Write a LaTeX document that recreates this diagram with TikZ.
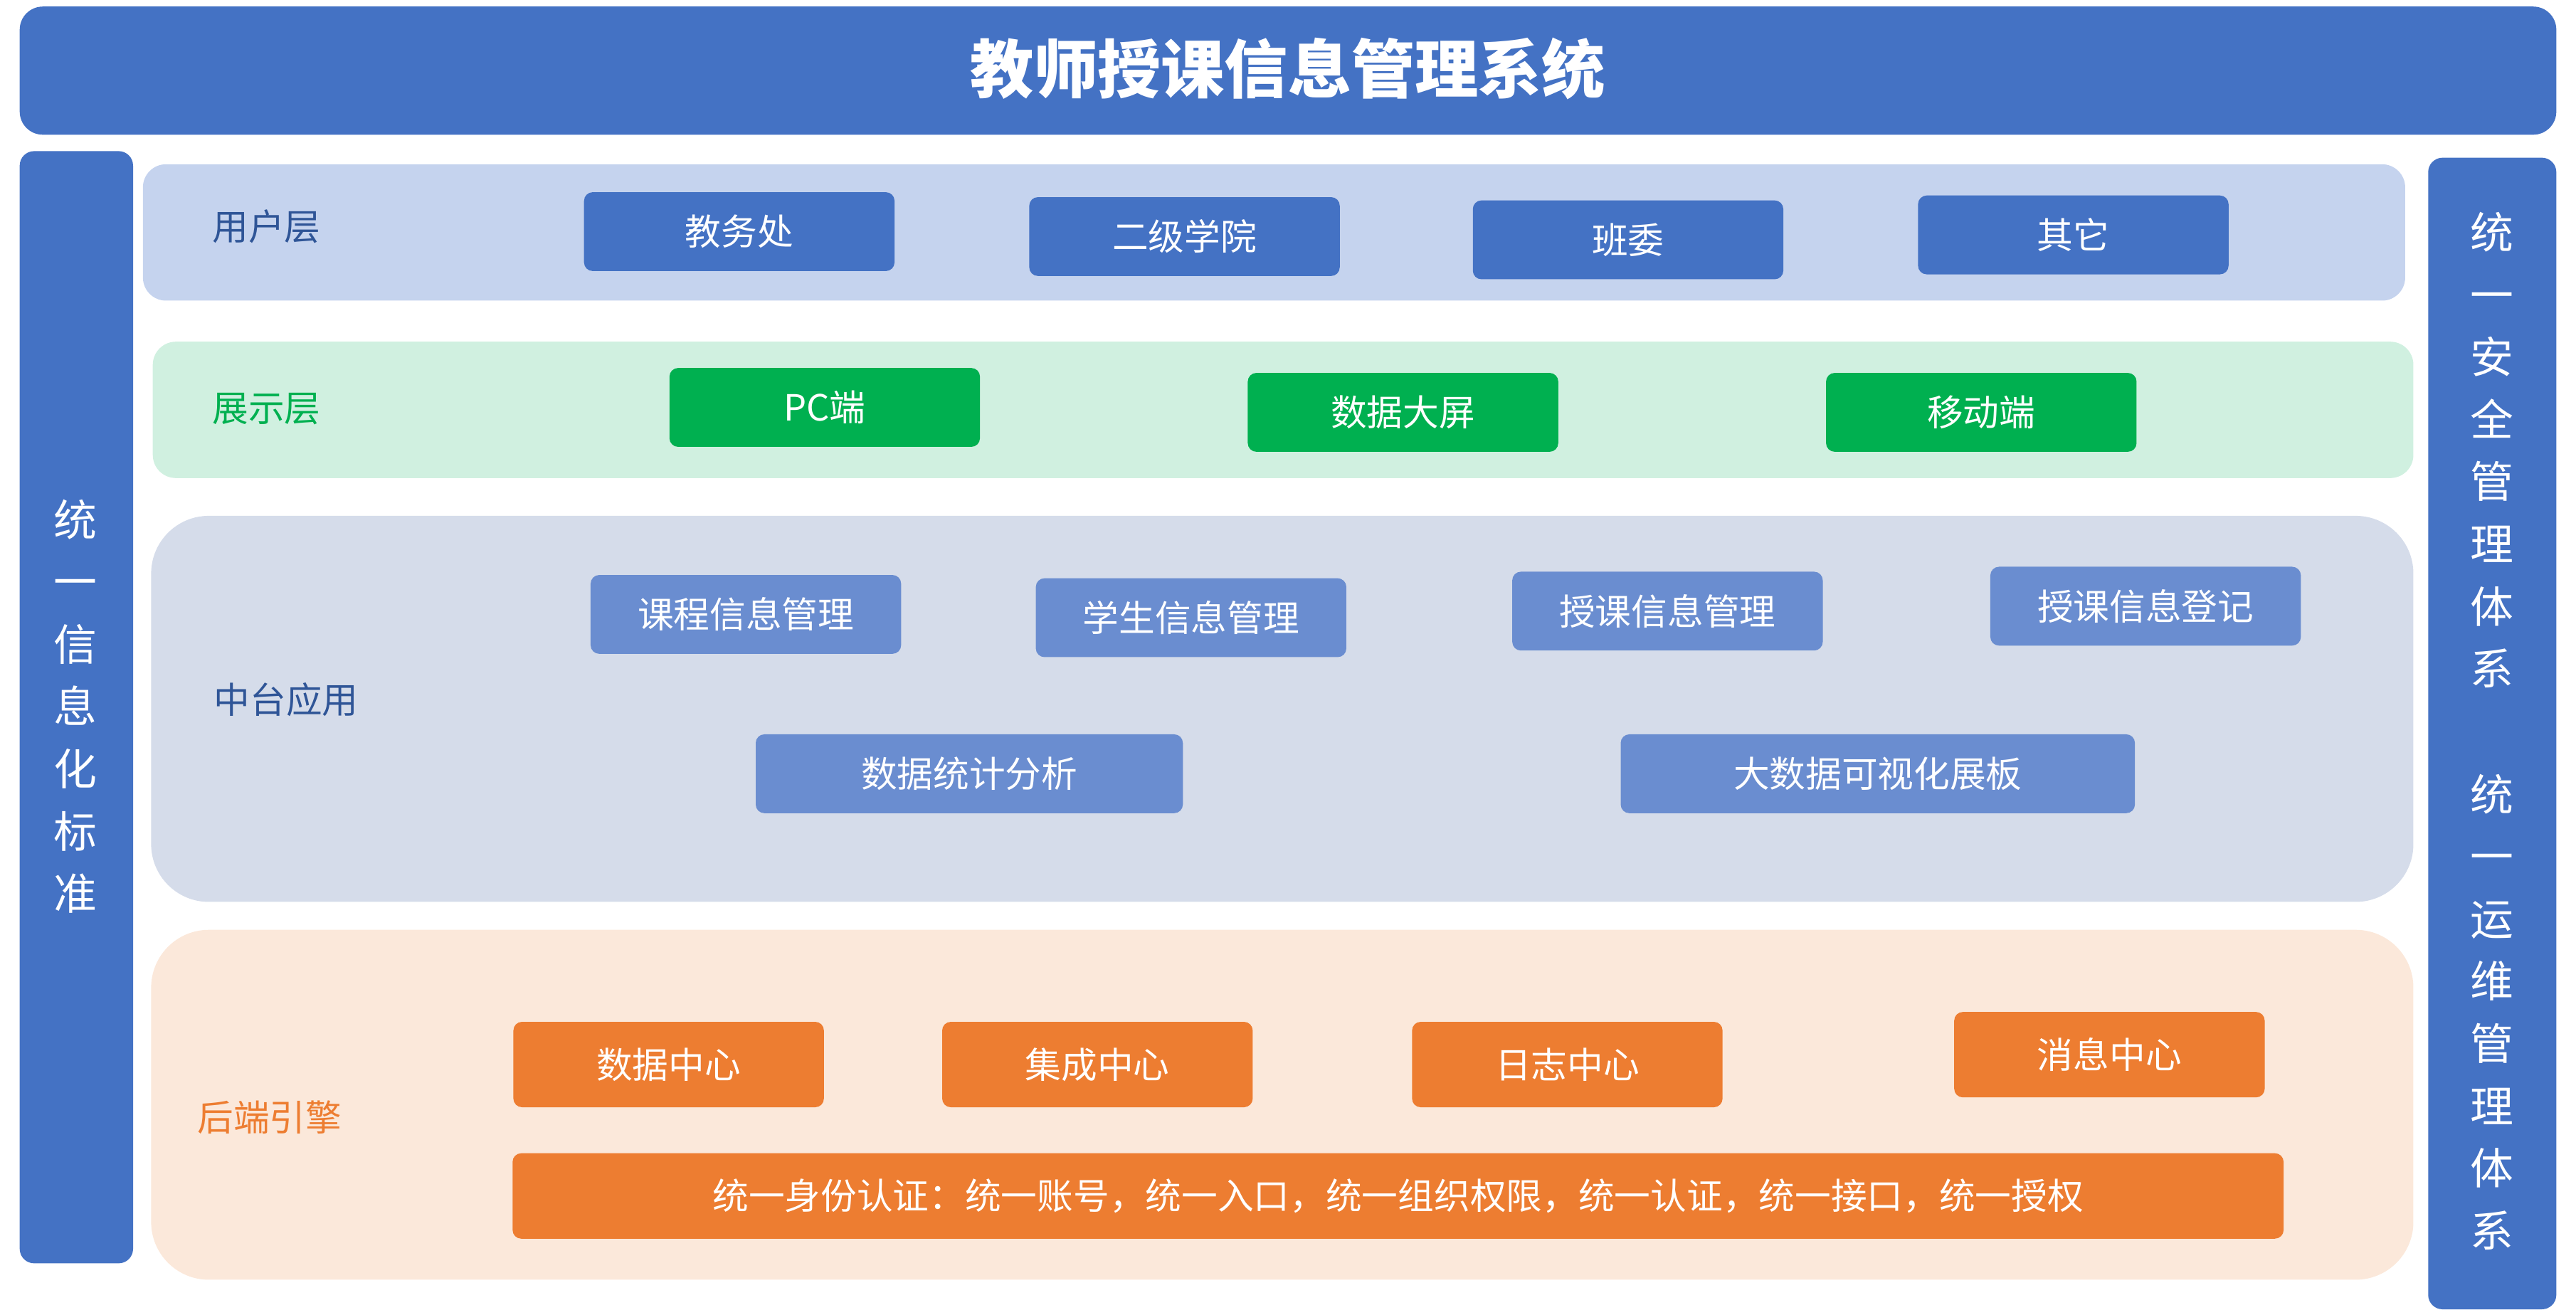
\documentclass[tikz,border=0pt]{standalone}
\usepackage{fontspec}
\setmainfont{Noto Sans CJK SC}
\usepackage{xcolor}
\usetikzlibrary{positioning,calc}
\definecolor{titleblue}{HTML}{4472C4}
\definecolor{userbg}{HTML}{C5D3EE}
\definecolor{showbg}{HTML}{D0F0E0}
\definecolor{showgreen}{HTML}{00B050}
\definecolor{midbg}{HTML}{D5DCEA}
\definecolor{midbtn}{HTML}{6A8DD0}
\definecolor{backbg}{HTML}{FBE8DA}
\definecolor{backbtn}{HTML}{ED7D31}
\definecolor{darkblue}{HTML}{2F5597}
\newcommand{\unitpx}{0.02cm}

\begin{document}
\begin{tikzpicture}[
    x=0.02cm, y=-0.02cm,
    layer/.style={rounded corners=8pt, inner sep=0pt},
    btn/.style={rounded corners=3pt, inner sep=0pt, text=white, font=\fontsize{12.5}{14}\selectfont,
        minimum width=189*\unitpx, minimum height=48*\unitpx},
    bar/.style={rounded corners=5pt, fill=titleblue},
    bartext/.style={text=white, font=\fontsize{15}{21.6}\selectfont, align=center},
    lbl/.style={anchor=west, font=\fontsize{12.5}{14}\selectfont}
]
    \useasboundingbox (0,0) rectangle (1568,797);
    % Title and side bars
    \fill[rounded corners=8pt, titleblue] (12,4) rectangle (1556,82);
    \node[text=white, font=\fontsize{22}{24}\selectfont\bfseries] (title) at (784,42) {教师授课信息管理系统};
    \fill[bar] (12,92) rectangle (81,769);
    \node[bartext] (std) at (46,430) {统\\一\\信\\息\\化\\标\\准};
    \fill[bar] (1478,96) rectangle (1556,797);
    \node[bartext] (safe) at (1517,274) {统\\一\\安\\全\\管\\理\\体\\系};
    \node[bartext] (ops) at (1517,616) {统\\一\\运\\维\\管\\理\\体\\系};

    % User layer
    \fill[layer, userbg] (87,100) rectangle (1464,183);
    \node[lbl, text=darkblue] (user) at (123,138) {用户层};
    \node[btn, fill=titleblue] (jwc) at (450,141) {教务处};
    \node[btn, fill=titleblue] (xy) at (721,144) {二级学院};
    \node[btn, fill=titleblue] (bw) at (991,146) {班委};
    \node[btn, fill=titleblue] (qt) at (1262,143) {其它};

    % Display layer
    \fill[layer, showbg] (93,208) rectangle (1469,291);
    \node[lbl, text=showgreen] (show) at (123,249) {展示层};
    \node[btn, fill=showgreen] (pc) at (502,248) {PC端};
    \node[btn, fill=showgreen] (dp) at (854,251) {数据大屏};
    \node[btn, fill=showgreen] (yd) at (1206,251) {移动端};

    % Middle platform
    \fill[rounded corners=20pt, midbg] (92,314) rectangle (1469,549);
    \node[lbl, text=darkblue] (mid) at (124,426) {中台应用};
    \node[btn, fill=midbtn] (kc) at (454,374) {课程信息管理};
    \node[btn, fill=midbtn] (xs) at (725,376) {学生信息管理};
    \node[btn, fill=midbtn] (sk) at (1015,372) {授课信息管理};
    \node[btn, fill=midbtn] (dj) at (1306,369) {授课信息登记};
    \node[btn, fill=midbtn, minimum width=260*\unitpx] (tj) at (590,471) {数据统计分析};
    \node[btn, fill=midbtn, minimum width=313*\unitpx] (ksh) at (1143,471) {大数据可视化展板};

    % Backend
    \fill[rounded corners=20pt, backbg] (92,566) rectangle (1469,779);
    \node[lbl, text=backbtn] (back) at (114,680) {后端引擎};
    \node[btn, fill=backbtn, minimum height=52*\unitpx] (sj) at (407,648) {数据中心};
    \node[btn, fill=backbtn, minimum height=52*\unitpx] (jc) at (668,648) {集成中心};
    \node[btn, fill=backbtn, minimum height=52*\unitpx] (rz) at (954,648) {日志中心};
    \node[btn, fill=backbtn, minimum height=52*\unitpx] (xx) at (1284,642) {消息中心};
    \node[btn, fill=backbtn, minimum width=1078*\unitpx, minimum height=52*\unitpx] (auth) at (851,728)
        {统一身份认证：统一账号，统一入口，统一组织权限，统一认证，统一接口，统一授权};
\end{tikzpicture}
\end{document}
